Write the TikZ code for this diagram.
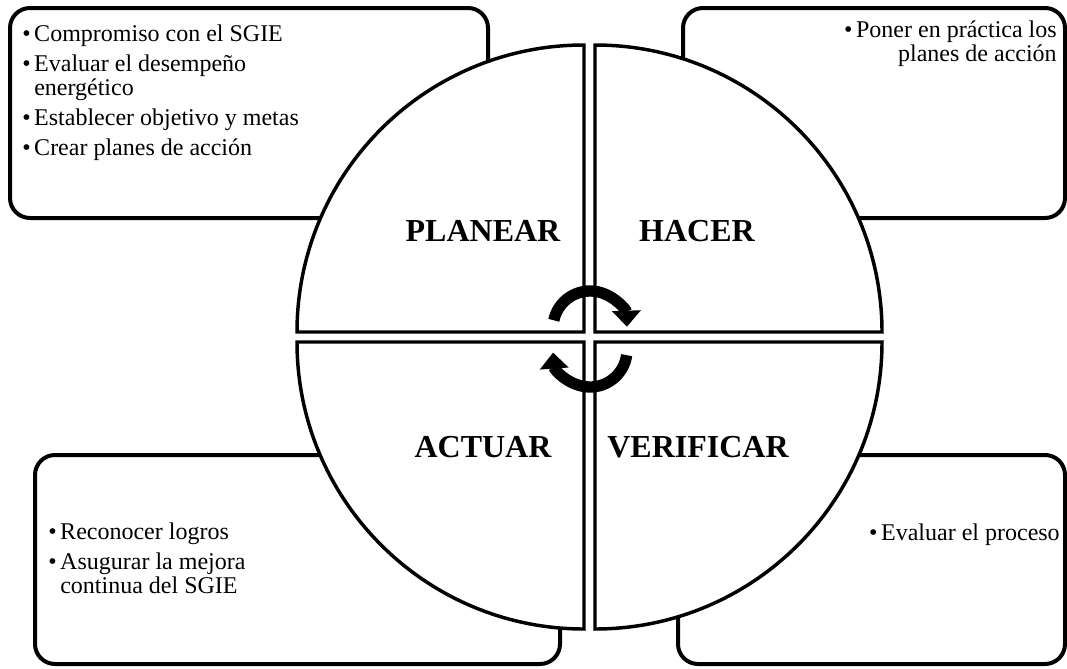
\documentclass[tikz,border=0pt]{standalone}
\usepackage{fontspec}
\setmainfont{Liberation Serif}
\usetikzlibrary{arrows.meta,positioning}
\newcommand{\blt}{\makebox[9pt][l]{\textbullet}}

\begin{document}
\begin{tikzpicture}[x=0.75pt, y=-0.75pt,
    panel/.style={draw=black, line width=3pt, rounded corners=15pt, fill=white},
    quarter/.style={draw=black, line width=2.6pt, fill=white, line join=miter},
    phase/.style={font=\fontsize{24}{26}\selectfont\bfseries, inner sep=0pt},
    notes/.style={font=\fontsize{18}{18}\selectfont, inner sep=0pt},
    cyc/.style={line width=8.5pt, -{Triangle[width=21pt,length=12pt]}}]
  \useasboundingbox (0,0) rectangle (1067,668);

  % boxes behind the circle
  \draw[panel] (10,8) rectangle (488,218);
  \draw[panel] (683,8) rectangle (1065,218);
  \draw[panel] (35,455) rectangle (560,664);
  \draw[panel] (678,455) rectangle (1065,664);

  % four quarters
  \def\rad{287}
  \draw[quarter] (584,332) -- ++(-\rad,0) arc[start angle=180, end angle=270, radius=\rad] -- cycle;
  \draw[quarter] (595,332) -- ++(0,-\rad) arc[start angle=270, end angle=360, radius=\rad] -- cycle;
  \draw[quarter] (595,342) -- ++(\rad,0) arc[start angle=0, end angle=90, radius=\rad] -- cycle;
  \draw[quarter] (584,342) -- ++(0,\rad) arc[start angle=90, end angle=180, radius=\rad] -- cycle;

  \node[phase] (plan) at (483,231) {PLANEAR};
  \node[phase] (do) at (697,231) {HACER};
  \node[phase] (act) at (483,447) {ACTUAR};
  \node[phase] (check) at (698,447) {VERIFICAR};

  % cycle arrows
  \coordinate (turnA) at (590,328);
  \coordinate (turnB) at (590,350);
  \draw[cyc] ([shift={(192:37)}]turnA) arc[start angle=192, end angle=358, radius=37];
  \draw[cyc] ([shift={(8:37)}]turnB) arc[start angle=8, end angle=176, radius=37];

  % notes (base = last line)
  \node[notes, anchor=base west, align=left] (plannotes) at (22,155)
    {\blt Compromiso con el SGIE\\[4.5pt]
     \blt Evaluar el desempeño\\
     \hspace*{9pt}energético\\[4.5pt]
     \blt Establecer objetivo y metas\\[4.5pt]
     \blt Crear planes de acción};
  \node[notes, anchor=base east, align=right] (donotes) at (1057,61)
    {\blt Poner en práctica los\\
     planes de acción};
  \node[notes, anchor=base west, align=left] (actnotes) at (48,593)
    {\blt Reconocer logros\\[4.5pt]
     \blt Asugurar la mejora\\
     \hspace*{9pt}continua del SGIE};
  \node[notes, anchor=base east] (checknotes) at (1060,540)
    {\blt Evaluar el proceso};
\end{tikzpicture}
\end{document}
